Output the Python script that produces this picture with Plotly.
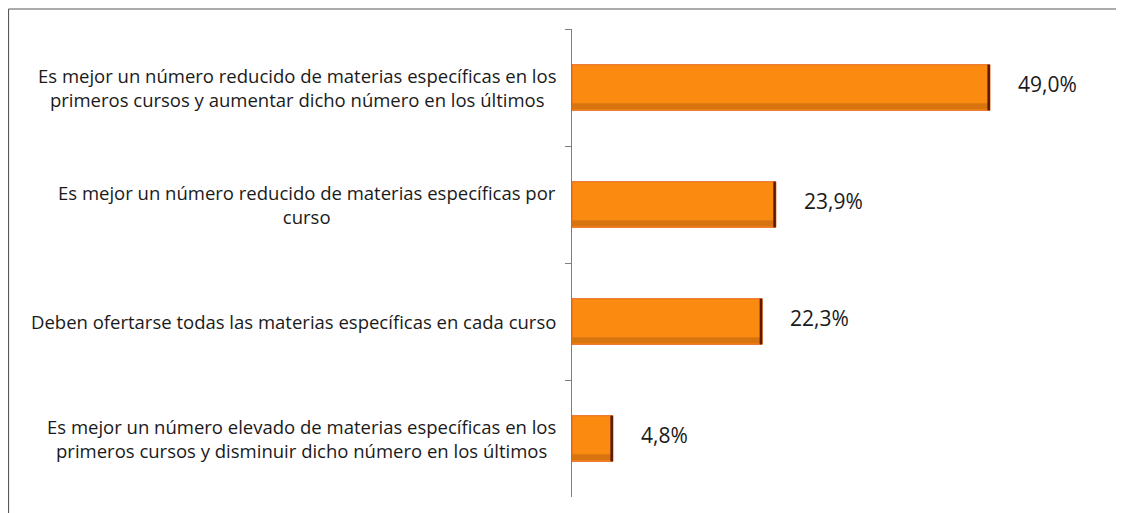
import plotly.graph_objects as go

categories = [
    "Es mejor un número reducido de materias específicas en los<br>primeros cursos y aumentar dicho número en los últimos",
    "Es mejor un número reducido de materias específicas por<br>curso",
    "Deben ofertarse todas las materias específicas en cada curso",
    "Es mejor un número elevado de materias específicas en los<br>primeros cursos y disminuir dicho número en los últimos",
]
values = [49.0, 23.9, 22.3, 4.8]
value_labels = ["49,0%", "23,9%", "22,3%", "4,8%"]

# page has an 8px body margin, so figure is 8px smaller
W, H = 1116, 505
ML, MR, MT, MB = 564, 14, 21, 16
pw = W - ML - MR
ph = H - MT - MB

fig = go.Figure()
bw = 0.39
# main bar
fig.add_trace(go.Bar(
    y=categories, x=values, orientation="h",
    width=bw, offset=-bw / 2,
    marker=dict(color="#FB8A10", line=dict(color="#E8641C", width=1)),
    hoverinfo="skip", showlegend=False,
))
# darker lower band (3D shading)
fig.add_trace(go.Bar(
    y=categories, x=values, orientation="h",
    width=0.05, offset=bw / 2 - 0.06,
    marker=dict(color="#D87410", line=dict(width=0)),
    hoverinfo="skip", showlegend=False,
))
# dark right edge
edge = 0.3
fig.add_trace(go.Bar(
    y=categories, x=[edge] * len(values), base=[v - edge for v in values],
    orientation="h", width=bw, offset=-bw / 2,
    marker=dict(color="#5A1A05", line=dict(width=0)),
    hoverinfo="skip", showlegend=False,
))

annotations = []
for c, v, t in zip(categories, values, value_labels):
    annotations.append(dict(
        x=v, y=c, xref="x", yref="y", text=t, showarrow=False,
        xanchor="left", xshift=26, yshift=4,
        font=dict(family="Open Sans", size=21, color="#1a1a1a"),
    ))
    annotations.append(dict(
        x=0, y=c, xref="x", yref="y", text=c, showarrow=False,
        xanchor="right", align="center", xshift=-14,
        font=dict(family="Open Sans", size=18.5, color="#1a1a1a"),
    ))

fig.update_layout(
    width=W, height=H,
    margin=dict(l=ML, r=MR, t=MT, b=MB),
    paper_bgcolor="white", plot_bgcolor="white",
    barmode="overlay",
    xaxis=dict(range=[0, pw / 8.53], visible=False, fixedrange=True),
    yaxis=dict(
        autorange="reversed", showticklabels=False,
        showline=True, linecolor="#7f7f7f", linewidth=1,
        ticks="outside", ticklen=6, tickcolor="#7f7f7f",
        tickson="boundaries", showgrid=False, zeroline=False,
    ),
    annotations=annotations,
    shapes=[
        dict(type="line", xref="paper", yref="paper",
             x0=(0.5 - ML) / pw, x1=(W + 10 - ML) / pw,
             y0=1 + (MT - 1) / ph, y1=1 + (MT - 1) / ph,
             line=dict(color="#595959", width=1.2)),
        dict(type="line", xref="paper", yref="paper",
             x0=(0.5 - ML) / pw, x1=(0.5 - ML) / pw,
             y0=1 + (MT - 1) / ph, y1=-0.2,
             line=dict(color="#595959", width=1.2)),
    ],
)

fig.write_html("out.html")
